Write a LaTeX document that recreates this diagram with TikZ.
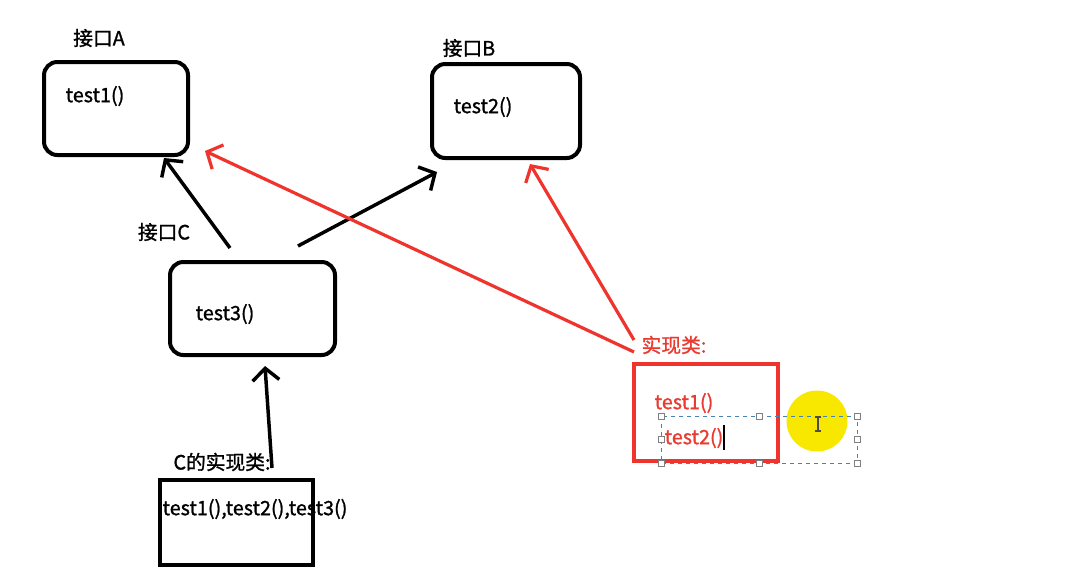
\documentclass[tikz,border=0pt]{standalone}
\usepackage{fontspec}
\setmainfont{Noto Sans CJK SC}
\newfontfamily\bfont[FakeBold=1.2]{Noto Sans CJK SC}
\usetikzlibrary{arrows.meta}
\definecolor{myred}{RGB}{238,52,44}
\definecolor{txtred}{RGB}{232,60,50}
\definecolor{selblue}{RGB}{70,130,180}
\definecolor{hiyellow}{RGB}{248,232,0}
\tikzset{
  iface/.style={draw=black, line width=3pt, rounded corners=10pt, inner sep=0pt},
  implbox/.style={draw=black, line width=3.6pt, inner sep=0pt},
  redbox/.style={draw=myred, line width=3.6pt, inner sep=0pt},
  lbl/.style={font=\bfont\fontsize{14.8}{16}\selectfont, inner sep=0pt},
  redlbl/.style={lbl, text=txtred},
  blkarrow/.style={draw=black, line width=2.6pt, -{Straight Barb[length=9pt,width=20pt,line width=2.6pt]}},
  redarrow/.style={draw=myred, line width=2.4pt, -{Straight Barb[length=9pt,width=20pt,line width=2.4pt]}},
  handle/.style={draw=gray, fill=white, line width=0.5pt, minimum size=4.5pt, inner sep=0pt}
}
\begin{document}
\begin{tikzpicture}[x=0.75pt,y=-0.75pt]
\useasboundingbox (0,0) rectangle (1073,572);
% interface boxes
\node[iface, minimum width=144*0.75pt, minimum height=93*0.75pt] (A) at (116,108.5) {};
\node[iface, minimum width=148*0.75pt, minimum height=94*0.75pt] (B) at (506,111) {};
\node[iface, minimum width=165*0.75pt, minimum height=93*0.75pt] (C) at (252.5,308.5) {};
\node[implbox, minimum width=153*0.75pt, minimum height=85*0.75pt] (CI) at (236.5,522.5) {};
\node[redbox, minimum width=144*0.75pt, minimum height=97*0.75pt] (R) at (706,412.5) {};
% labels
\node[lbl] (la) at (99,38) {接口A};
\node[lbl] (lb) at (469,48) {接口B};
\node[lbl] (lc) at (164,232) {接口C};
\node[lbl] (lci) at (222,462) {C的实现类:};
\node[redlbl] (lr) at (674,345) {实现类:};
\node[lbl] (ta) at (95,96) {test1()};
\node[lbl] (tb) at (483,107) {test2()};
\node[lbl] (tc) at (225,314) {test3()};
\node[lbl] (tci) at (255,509) {test1(),test2(),test3()};
\node[redlbl] (tr1) at (684,403) {test1()};
\node[redlbl] (tr2) at (694,438) {test2()};
% arrow end points
\coordinate (a1s) at (230,248); \coordinate (a1e) at (164,158);
\coordinate (a2s) at (298,246); \coordinate (a2e) at (437,172);
\coordinate (a3s) at (272,468); \coordinate (a3e) at (265,366);
\coordinate (r1s) at (634,352); \coordinate (r1e) at (205,151);
\coordinate (r2s) at (634,340); \coordinate (r2e) at (530,164);
\draw[blkarrow] (a1s) -- (a1e);
\draw[blkarrow] (a2s) -- (a2e);
\draw[blkarrow] (a3s) -- (a3e);
\draw[redarrow] (r1s) -- (r1e);
\draw[redarrow] (r2s) -- (r2e);
% highlight circle
\fill[hiyellow] (817,421) circle[radius=30.5*0.75pt];
% selection box
\draw[selblue, dashed, line width=0.6pt] (661,416) rectangle (857,463);
\foreach \p [count=\i] in {(661,416),(759,416),(857,416),(661,439),(857,439),(661,463),(759,463),(857,463)}
  \node[handle] (h\i) at \p {};
% text caret
\draw[black, line width=0.9pt] (724,425) -- (724,450);
% I-beam cursor
\draw[black!70, line width=0.8pt] (818,417) -- (818,431) (815,417) -- (821,417) (815,431) -- (821,431);
\end{tikzpicture}
\end{document}
